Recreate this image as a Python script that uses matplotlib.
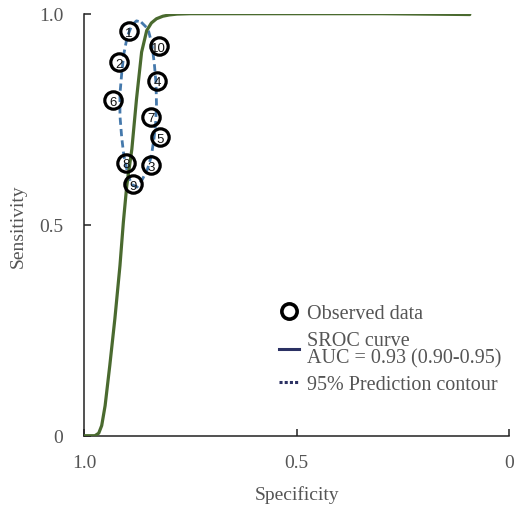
import matplotlib.pyplot as plt
from matplotlib.lines import Line2D

# observed studies (specificity, sensitivity)
study_ids = ['1', '2', '3', '4', '5', '6', '7', '8', '9', '10']
study_spec = [0.895, 0.918, 0.843, 0.828, 0.821, 0.932, 0.844, 0.901, 0.885, 0.825]
study_sens = [0.958, 0.885, 0.641, 0.841, 0.707, 0.795, 0.756, 0.647, 0.596, 0.923]

# SROC curve
sroc_spec = [1.000, 0.998, 0.975, 0.966, 0.959, 0.951, 0.940, 0.928, 0.916, 0.908, 0.900,
             0.888, 0.877, 0.865, 0.853, 0.842, 0.830, 0.815, 0.800, 0.782, 0.750,
             0.720, 0.500, 0.300, 0.092]
sroc_sens = [0.000, 0.000, 0.000, 0.006, 0.024, 0.071, 0.166, 0.277, 0.403, 0.506, 0.592,
             0.679, 0.798, 0.909, 0.960, 0.978, 0.988, 0.994, 0.997, 0.999, 1.000,
             1.000, 1.000, 1.000, 0.998]

# 95% prediction contour
cont_spec = [0.866, 0.850, 0.841, 0.835, 0.831, 0.830, 0.832, 0.836, 0.842, 0.851, 0.864,
             0.876, 0.889, 0.897, 0.907, 0.912, 0.916, 0.916, 0.912, 0.907, 0.899, 0.888,
             0.877, 0.866]
cont_sens = [0.980, 0.964, 0.929, 0.881, 0.834, 0.786, 0.739, 0.703, 0.663, 0.632, 0.606,
             0.589, 0.596, 0.618, 0.665, 0.708, 0.758, 0.810, 0.857, 0.904, 0.945, 0.973,
             0.983, 0.980]

serif = 'Liberation Serif'
grey = '#555555'

fig = plt.figure(figsize=(5.14, 5.10), dpi=100)
ax = fig.add_axes([0.164, 0.1437, 0.826, 0.8275])

ax.plot(cont_spec, cont_sens, color='#4579ac', lw=2.0, ls=(0, (2.6, 1.5)), zorder=2)
ax.plot(sroc_spec, sroc_sens, color='#4a6a2f', lw=2.3, zorder=3, solid_capstyle='round',
        solid_joinstyle='round')
ax.plot(study_spec, study_sens, 'o', ms=12.5, mfc='none', mec='black', mew=2.3, zorder=4)
for s, x, y in zip(study_ids, study_spec, study_sens):
    ax.text(x, y, s, ha='center', va='center_baseline', fontsize=9.5,
            family='Liberation Sans', color='#111111', zorder=5)

ax.set_xlim(1.0, 0.0)
ax.set_ylim(0.0, 1.0)
ax.set_xticks([1.0, 0.5, 0.0])
ax.set_xticklabels(['1.0', '0.5', '0'])
ax.set_yticks([0.0, 0.5, 1.0])
ax.set_yticklabels(['0', '0.5', '1.0'])

for side in ['top', 'right']:
    ax.spines[side].set_visible(False)
for side in ['left', 'bottom']:
    ax.spines[side].set_color('#222222')
    ax.spines[side].set_linewidth(1.1)

ax.tick_params(axis='both', direction='in', length=5, width=1.1, color='#222222',
               labelsize=14, labelcolor=grey)
ax.tick_params(axis='x', pad=13)
ax.tick_params(axis='y', pad=15)
for lab in ax.get_xticklabels() + ax.get_yticklabels():
    lab.set_family(serif)

ax.set_xlabel('Specificity', fontsize=14, color=grey, family=serif, labelpad=10)
ax.set_ylabel('Sensitivity', fontsize=14, color=grey, family=serif, labelpad=9)

handles = [
    Line2D([], [], ls='none', marker='o', ms=11, mfc='none', mec='black', mew=2.6),
    Line2D([], [], color='#2b3163', lw=2.2),
    Line2D([], [], color='#2b3163', lw=2.2, ls=(0, (1, 0.7))),
]
labels = ['Observed data', 'SROC curve\nAUC = 0.93 (0.90-0.95)', '95% Prediction contour']
leg = ax.legend(handles, labels, loc='upper left', bbox_to_anchor=(0.435, 0.337),
                frameon=False, handlelength=1.0, handletextpad=0.4, labelspacing=0.4,
                borderpad=0, prop={'family': serif, 'size': 14.5})
for t in leg.get_texts():
    t.set_color(grey)
    t.set_linespacing(0.88)

plt.savefig('out.png', dpi=100)
